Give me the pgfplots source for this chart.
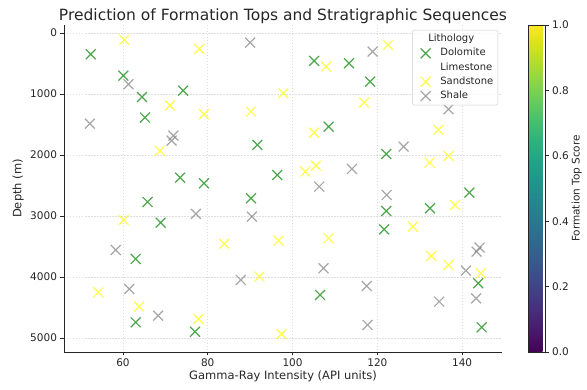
\documentclass[border=0pt]{standalone}
\usepackage{pgfplots}
\pgfplotsset{compat=1.18}
\usepackage{fontspec}
\setmainfont{DejaVu Sans}
\definecolor{dol}{RGB}{0,128,0}
\definecolor{san}{RGB}{255,255,0}
\definecolor{sha}{RGB}{128,128,128}
\definecolor{gridc}{RGB}{222,222,222}

\pgfplotstableread{
x y
52.4 349
60.1 700
64.5 1049
74.2 946
65.2 1388
73.5 2372
79.1 2464
65.8 2770
68.9 3109
63.0 3705
63.0 4743
77.0 4897
105.1 459
113.3 497
118.3 798
108.5 1536
91.7 1836
122.1 1984
96.4 2328
90.2 2710
122.1 2918
121.6 3219
132.4 2874
141.7 2618
143.8 4104
144.6 4825
106.5 4295
}\dolomite

\pgfplotstableread{
x y
60.3 115
78.0 262
71.1 1191
79.1 1333
68.7 1934
60.2 3066
83.9 3455
54.2 4251
63.8 4486
77.8 4689
107.9 552
122.5 197
97.8 989
90.2 1290
116.9 1142
105.1 1634
103.0 2273
105.5 2175
96.7 3404
108.5 3366
92.2 3994
97.4 4934
134.4 1590
132.3 2126
136.8 2016
138.3 2820
128.4 3175
132.7 3656
136.8 3803
144.4 3940
}\sandstone

\pgfplotstableread{
x y
61.3 841
52.2 1487
71.9 1683
71.5 1765
77.2 2967
58.3 3557
61.5 4197
68.3 4634
87.8 4049
90.0 158
118.9 306
114.0 2230
106.3 2519
122.2 2656
126.2 1864
136.8 1251
90.4 3011
107.3 3858
117.5 4148
117.7 4787
143.4 3585
144.1 3519
140.9 3896
134.6 4404
143.3 4350
}\shale

\begin{document}
\begin{tikzpicture}
\useasboundingbox (0,0) rectangle (587pt,390pt);
\begin{axis}[
  at={(64pt,38pt)}, anchor=south west,
  scale only axis, width=438pt, height=327pt,
  xmin=46.1, xmax=149.4, ymin=-130, ymax=5230, y dir=reverse,
  axis x line*=bottom, axis y line*=left,
  axis line style={black!85, line width=0.8pt},
  xtick={60,80,100,120,140}, ytick={0,1000,2000,3000,4000,5000},
  tick align=outside, major tick length=3.5pt,
  tick style={black!85, line width=0.8pt},
  /pgf/number format/assume math mode=true,
  /pgf/number format/set thousands separator={},
  ticklabel style={font=\fontsize{10.5}{12}\selectfont, text=black!85},
  grid=major, grid style={gridc, line width=0.6pt, dash pattern=on 1.5pt off 1.5pt},
  title={Prediction of Formation Tops and Stratigraphic Sequences},
  title style={font=\fontsize{15.5}{18}\selectfont, text=black!85, at={(0.5,1)}, anchor=base, yshift=-1.5pt},
  xlabel={Gamma-Ray Intensity (API units)},
  xlabel style={font=\fontsize{11.5}{13}\selectfont, text=black!85, at={(0.5,0)}, anchor=base, yshift=-28pt},
  ylabel={Depth (m)},
  ylabel style={font=\fontsize{11.5}{13}\selectfont, text=black!85, at={(axis description cs:-0.1043,0.5)}, anchor=center},
  legend style={at={(0.991,0.985)}, anchor=north east, draw=gray!40, rounded corners=2pt,
    fill=white, fill opacity=0.8, text opacity=1,
    font=\fontsize{10}{12}\selectfont, text=black!85,
    nodes={text height=7pt, text depth=2pt, inner sep=2.6pt}, row sep=0pt, inner sep=2pt},
  legend cell align=left,
  legend image code/.code={\path (0pt,0pt) (22pt,0pt); \draw[#1] plot coordinates {(10.5pt,0pt)};},
  colormap/viridis, colorbar, point meta min=0, point meta max=1,
  colorbar style={
    at={(parent axis.north east)}, anchor=north west, xshift=17.8pt,
    scale only axis, width=16.7pt, height=327pt,
    ytick={0,0.2,0.4,0.6,0.8,1}, ytick pos=right,
    tick align=outside, major tick length=3.5pt,
    tick style={black!85, line width=0.8pt},
    axis line style={black!85, line width=0.6pt},
    /pgf/number format/assume math mode=true,
    yticklabel style={font=\fontsize{10.5}{12}\selectfont, text=black!85, /pgf/number format/.cd, fixed, fixed zerofill, precision=1},
    ylabel={Formation Top Score},
    ylabel style={font=\fontsize{10.5}{12}\selectfont, text=black!85, at={(axis description cs:2.9,0.5)}, anchor=center},
  },
]
\addlegendimage{empty legend}
\addlegendentry{\hspace{-12pt}Lithology}
\addplot[only marks, mark=x, mark size=7pt, line width=1.2pt, color=dol, opacity=0.7] table[x=x,y=y] {\dolomite};
\addlegendentry{Dolomite}
\addlegendimage{only marks, mark=x, mark size=7pt, line width=1.2pt, color=white}
\addlegendentry{Limestone}
\addplot[only marks, mark=x, mark size=7pt, line width=1.2pt, color=san, opacity=0.7] table[x=x,y=y] {\sandstone};
\addlegendentry{Sandstone}
\addplot[only marks, mark=x, mark size=7pt, line width=1.2pt, color=sha, opacity=0.7] table[x=x,y=y] {\shale};
\addlegendentry{Shale}
\end{axis}
\end{tikzpicture}
\end{document}
